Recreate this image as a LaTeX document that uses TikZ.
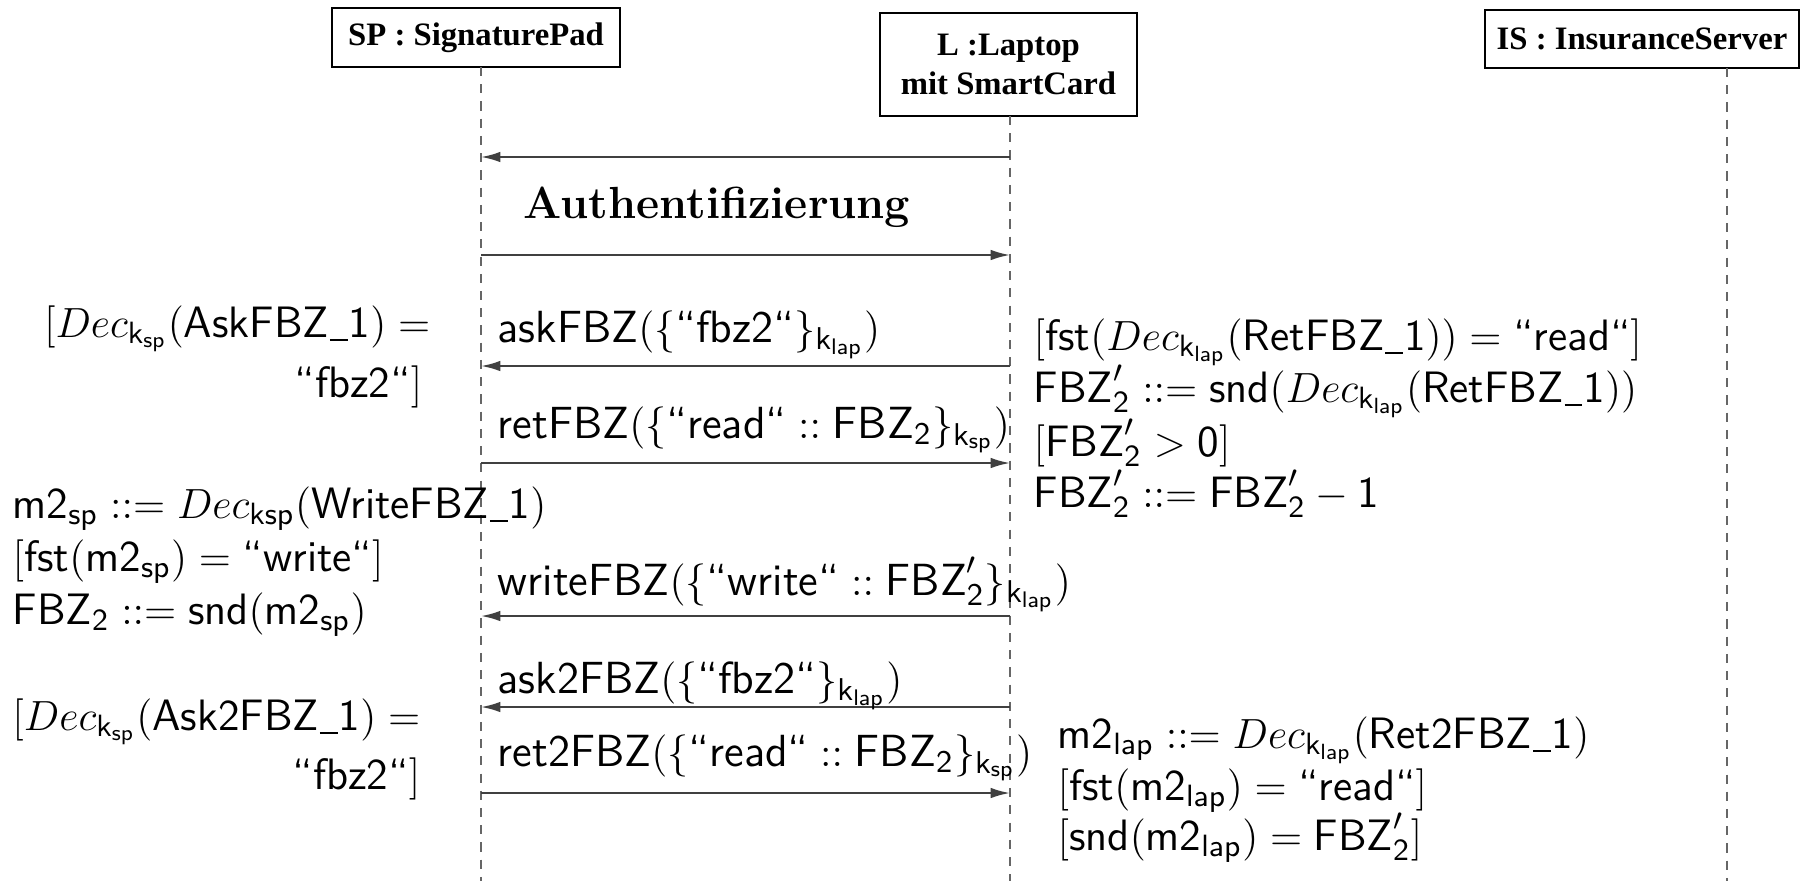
\documentclass[tikz,border=0pt]{standalone}
\usepackage{amsmath}
\usepackage{fontspec}
\newfontfamily\hdrfont{Liberation Serif}
\usetikzlibrary{arrows.meta}
\newcommand\tsf[1]{\textsf{#1}}
\newcommand\us{\kern0.02em\rule[-0.09em]{0.4em}{0.055em}\kern0.03em}
\newcommand\kl{\tsf{k}_{\tsf{lap}}}
\newcommand\ks{\tsf{k}_{\tsf{sp}}}
\newcommand\fbp{\tsf{FBZ}'_{\tsf{2}}}
\newcommand\fbt{\tsf{FBZ}_{\tsf{2}}}
\newcommand\qt[1]{\tsf{“#1“}}
\begin{document}
\begin{tikzpicture}[x=0.01cm,y=-0.01cm,
  obj/.style={draw=black,line width=0.8pt,fill=white,inner sep=0pt,align=center,
    font=\hdrfont\bfseries\fontsize{9.3}{11.3}\selectfont},
  life/.style={draw=black!60,line width=0.45pt,dash pattern=on 2.6pt off 2.3pt},
  msg/.style={draw=black!75,line width=0.6pt,-{Latex[length=5.5pt,width=3pt]}},
  lbl/.style={inner sep=0pt,font=\fontsize{12.8}{14}\selectfont},
  ann/.style={inner sep=0pt,font=\fontsize{12.5}{14}\selectfont},
  ttl/.style={inner sep=0pt,font=\bfseries\fontsize{12.8}{14}\selectfont},
]
\useasboundingbox (0,0) rectangle (1800,881);

% objects
\node[obj,minimum width=2.88cm,minimum height=0.59cm] (sp) at (476,37.5) {SP : SignaturePad};
\node[obj,minimum width=2.57cm,minimum height=1.03cm] (lap) at (1008.5,64.5) {L :Laptop\\mit SmartCard};
\node[obj,minimum width=3.14cm,minimum height=0.58cm] (is) at (1642,39) {IS : InsuranceServer};

% lifelines
\coordinate (spt) at (481,67);  \coordinate (spb) at (481,881);
\coordinate (lt)  at (1010,116); \coordinate (lb) at (1010,881);
\coordinate (ist) at (1727,68); \coordinate (isb) at (1727,881);
\draw[life] (spt) -- (spb);
\draw[life] (lt) -- (lb);
\draw[life] (ist) -- (isb);

% message anchor points
\foreach \i/\yy in {1/157,2/255,3/366,4/463,5/616,6/707,7/793}{
  \coordinate (s\i) at (481,\yy);
  \coordinate (l\i) at (1010,\yy);
}
\draw[msg] (l1) -- (s1);
\draw[msg] (s2) -- (l2);
\draw[msg] (l3) -- (s3);
\draw[msg] (s4) -- (l4);
\draw[msg] (l5) -- (s5);
\draw[msg] (l6) -- (s6);
\draw[msg] (s7) -- (l7);

\node[ttl,anchor=base west] (auth) at (523,218) {Authentifizierung};

% message labels
\node[lbl,anchor=base west] (m3) at (497,342) {$\tsf{askFBZ}(\{\qt{fbz2}\}_{\kl})$};
\node[lbl,anchor=base west] (m4) at (497,438) {$\tsf{retFBZ}(\{\qt{read} :: \fbt\}_{\ks})$};
\node[lbl,anchor=base west] (m5) at (497,595) {$\tsf{writeFBZ}(\{\qt{write} :: \fbp\}_{\kl})$};
\node[lbl,anchor=base west] (m6) at (497,693) {$\tsf{ask2FBZ}(\{\qt{fbz2}\}_{\kl})$};
\node[lbl,anchor=base west] (m7) at (497,766) {$\tsf{ret2FBZ}(\{\qt{read} :: \fbt\}_{\ks})$};

% left annotations
\node[ann,anchor=base east] (a1) at (431,337) {$[Dec_{\ks}(\tsf{AskFBZ\us1}) =$};
\node[ann,anchor=base east] (a2) at (423,397) {$\qt{fbz2}]$};

\node[ann,anchor=base west] (b1) at (12,518) {$\tsf{m2}_{\tsf{sp}} ::= Dec_{\tsf{ksp}}(\tsf{WriteFBZ\us1})$};
\node[ann,anchor=base west] (b2) at (12,571) {$[\tsf{fst}(\tsf{m2}_{\tsf{sp}}) = \qt{write}]$};
\node[ann,anchor=base west] (b3) at (12,624) {$\fbt ::= \tsf{snd}(\tsf{m2}_{\tsf{sp}})$};

\node[ann,anchor=base east] (c1) at (421,730) {$[Dec_{\ks}(\tsf{Ask2FBZ\us1}) =$};
\node[ann,anchor=base east] (c2) at (421,789) {$\qt{fbz2}]$};

% right annotations
\node[ann,anchor=base west] (r1) at (1033,350) {$[\tsf{fst}(Dec_{\kl}(\tsf{RetFBZ\us1})) = \qt{read}]$};
\node[ann,anchor=base west] (r2) at (1033,402) {$\fbp ::= \tsf{snd}(Dec_{\kl}(\tsf{RetFBZ\us1}))$};
\node[ann,anchor=base west] (r3) at (1033,456) {$[\fbp > \tsf{0}]$};
\node[ann,anchor=base west] (r4) at (1033,507) {$\fbp ::= \fbp - \tsf{1}$};

\node[ann,anchor=base west] (n1) at (1057,748) {$\tsf{m2}_{\tsf{lap}} ::= Dec_{\kl}(\tsf{Ret2FBZ\us1})$};
\node[ann,anchor=base west] (n2) at (1057,800) {$[\tsf{fst}(\tsf{m2}_{\tsf{lap}}) = \qt{read}]$};
\node[ann,anchor=base west] (n3) at (1057,850) {$[\tsf{snd}(\tsf{m2}_{\tsf{lap}}) = \fbp]$};
\end{tikzpicture}
\end{document}
